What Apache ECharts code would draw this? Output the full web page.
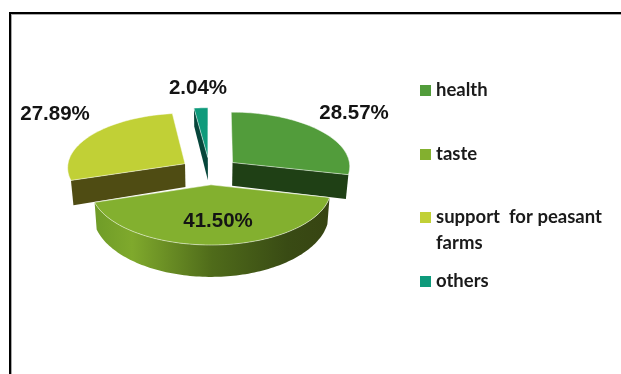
<!DOCTYPE html>
<html>
<head>
<meta charset="utf-8">
<style>html,body{margin:0;padding:0;background:#fff}#chart{width:621px;height:374px}</style>
<script src="https://cdn.jsdelivr.net/npm/echarts@6/dist/echarts.min.js"></script>
</head>
<body>
<div id="chart"></div>
<script>
// Survey shares, clockwise from twelve o'clock
const categories = ['health', 'taste', 'support  for peasant farms', 'others'];
const shares = [28.57, 41.50, 27.89, 2.04];

// Colours per slice: top face and shaded side
const topColors = ['#529c3b', '#83b02f', '#c1d036', '#0e9a7b'];
const sideColors = ['#1f4015', '#4f6a1c', '#4f4c13', '#07463b'];
const valueLabelCentres = [[354, 113], [218, 221], [55, 114], [198, 88]];
const legendRows = [81, 145, 208, 272];

// Tilted-disc projection with a mild perspective towards the viewer
const CX = 209.7, CY = 171, RX = 118, RY = 54.6, PERSP = 0.0624;
const EXPLODE = 0.25, DEPTH = 24, BASE_NARROW = 0.982;

function project(x, y, lower) {
  const s = 1 / (1 - PERSP * y);
  const depth = lower ? DEPTH * Math.pow(s, 3.5) : 0;
  const nx = lower ? BASE_NARROW : 1;
  return [CX + RX * x * s * nx, CY + RY * y * s + depth];
}

const total = shares.reduce((a, b) => a + b, 0);
const starts = [];
shares.reduce((acc, v, i) => { starts[i] = acc; return acc + v; }, 0);

function sliceGeometry(i) {
  const a0 = starts[i] / total * 2 * Math.PI;
  const a1 = (starts[i] + shares[i]) / total * 2 * Math.PI;
  const mid = (a0 + a1) / 2;
  const ox = EXPLODE * Math.sin(mid), oy = -EXPLODE * Math.cos(mid);
  const steps = Math.max(4, Math.ceil((a1 - a0) * 40));
  const ring = [];
  for (let k = 0; k <= steps; k++) {
    const a = a0 + (a1 - a0) * k / steps;
    ring.push([ox + Math.sin(a), oy - Math.cos(a)]);
  }
  return { apex: [ox, oy], ring, a0, a1, mid };
}

function renderSlice(params, api) {
  const i = params.seriesIndex;
  const { apex, ring, a0, a1, mid } = sliceGeometry(i);
  const up = p => project(p[0], p[1], false);
  const low = p => project(p[0], p[1], true);
  const first = ring[0], last = ring[ring.length - 1];
  const poly = (points, fill, stroke) => ({
    type: 'polygon',
    shape: { points },
    style: stroke ? { fill, stroke, lineWidth: 0.9 } : { fill }
  });
  const children = [];
  // Cut faces show only where their outward normal points at the viewer
  if (Math.cos(a0 - Math.PI / 2) < -0.05) {
    children.push(poly([up(apex), up(first), low(first), low(apex)], sideColors[i]));
  }
  if (Math.cos(a1 + Math.PI / 2) < -0.05) {
    children.push(poly([up(apex), up(last), low(last), low(apex)], sideColors[i]));
  }
  // Outer rim, for the slice that faces front
  if (Math.cos(mid) < 0) {
    const rimFill = new echarts.graphic.LinearGradient(0, 0, 1, 0, [
      { offset: 0, color: '#6f9c28' },
      { offset: 0.16, color: '#7fa92c' },
      { offset: 0.5, color: '#4f6b1a' },
      { offset: 0.82, color: '#394b14' },
      { offset: 1, color: '#374412' }
    ]);
    children.push(poly(ring.map(up).concat(ring.slice().reverse().map(low)), rimFill));
  }
  children.push(poly([up(apex)].concat(ring.map(up)), topColors[i], 'rgba(255,255,255,0.55)'));
  children.push({
    type: 'text',
    z2: 10,
    style: {
      x: valueLabelCentres[i][0],
      y: valueLabelCentres[i][1],
      text: api.value(0).toFixed(2) + '%',
      align: 'center',
      verticalAlign: 'middle',
      font: 'bold 20.5px "Liberation Sans", Arial, sans-serif',
      fill: '#141414'
    }
  });
  return { type: 'group', children };
}

const series = categories.map((name, i) => ({
  type: 'custom',
  name,
  coordinateSystem: 'none',
  z: i === 1 ? 5 : 2,
  itemStyle: { color: topColors[i] },
  renderItem: renderSlice,
  data: [[shares[i]]]
}));

const legendFont = { fontFamily: 'Lato', fontWeight: 'bold', fontSize: 18.5, color: '#1a1a1a' };
const legend = categories.map((name, i) => ({
  data: [name],
  left: 420,
  top: legendRows[i],
  padding: 0,
  icon: 'rect',
  itemWidth: 11,
  itemHeight: 11,
  selectedMode: false,
  textStyle: legendFont,
  formatter: n => n.replace(' farms', '')
}));

const chart = echarts.init(document.getElementById('chart'), null, { renderer: 'canvas' });
chart.setOption({
  animation: false,
  backgroundColor: '#fff',
  legend,
  series,
  graphic: [
    { type: 'rect', shape: { x: 9, y: 12, width: 612, height: 2 }, style: { fill: '#000' } },
    { type: 'rect', shape: { x: 9, y: 12, width: 2, height: 362 }, style: { fill: '#000' } },
    { type: 'rect', shape: { x: 11, y: 14, width: 610, height: 1 }, style: { fill: '#a8a8a8' } },
    { type: 'rect', shape: { x: 11, y: 14, width: 1, height: 360 }, style: { fill: '#a8a8a8' } },
    {
      type: 'text',
      left: 436,
      top: 234,
      style: { text: 'farms', font: 'bold 18.5px Lato', fill: '#1a1a1a' }
    }
  ]
});
</script>
</body>
</html>
